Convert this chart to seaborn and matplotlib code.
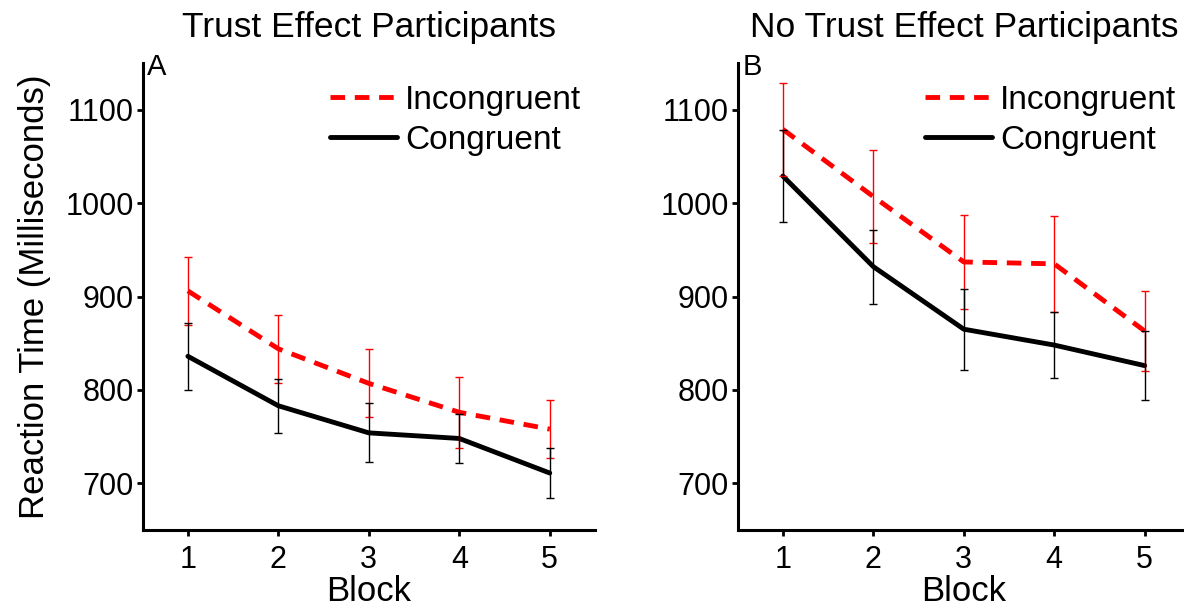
import numpy as np
import pandas as pd
import matplotlib
matplotlib.use("Agg")
import matplotlib.pyplot as plt
from matplotlib.lines import Line2D
import seaborn as sns

# Blocks and conditions
blocks = [1, 2, 3, 4, 5]
conditions = ["Incongruent", "Congruent"]

# Panel A: trust-effect participants (mean RT and standard error, ms)
trust_incongruent = [906, 844, 807, 776, 758]
trust_incongruent_err = [36.6, 36.6, 36.5, 37.9, 30.9]
trust_congruent = [836, 783, 754, 748, 711]
trust_congruent_err = [35.8, 28.7, 31.5, 26.0, 26.8]

# Panel B: no-trust-effect participants (mean RT and standard error, ms)
notrust_incongruent = [1079, 1007, 937, 935, 863]
notrust_incongruent_err = [50.0, 50.0, 50.2, 51.5, 42.5]
notrust_congruent = [1029, 932, 865, 848, 826]
notrust_congruent_err = [49.5, 39.5, 43.5, 35.4, 37.2]

panel_titles = ["Trust Effect Participants", "No Trust Effect Participants"]
panel_letters = ["A", "B"]
y_ticks = [700, 800, 900, 1000, 1100]

colors = {"Incongruent": "#ff0000", "Congruent": "#000000"}
dash_styles = {"Incongruent": (3, 2), "Congruent": ""}

sns.set_style("ticks")
plt.rcParams["font.family"] = ["Liberation Sans", "DejaVu Sans"]
plt.rcParams.update({
    "text.color": "black",
    "axes.labelcolor": "black",
    "axes.edgecolor": "black",
    "xtick.color": "black",
    "ytick.color": "black",
})


def make_frame(incong, cong):
    rows = []
    for cond, vals in zip(conditions, [incong, cong]):
        for b, v in zip(blocks, vals):
            rows.append({"Block": b, "RT": v, "Condition": cond})
    return pd.DataFrame(rows)


panels = [
    (trust_incongruent, trust_incongruent_err, trust_congruent, trust_congruent_err),
    (notrust_incongruent, notrust_incongruent_err, notrust_congruent, notrust_congruent_err),
]

fig = plt.figure(figsize=(11.84, 6.12), dpi=100)
ax_w = 0.382
ax_h = 0.763
ax_b = 0.134
lefts = [0.1205, 0.623]

for i, (inc, inc_e, con, con_e) in enumerate(panels):
    ax = fig.add_axes([lefts[i], ax_b, ax_w, ax_h])
    df = make_frame(inc, con)
    sns.lineplot(data=df, x="Block", y="RT", hue="Condition", style="Condition",
                 hue_order=conditions, style_order=conditions,
                 palette=colors, dashes=dash_styles, linewidth=3.5,
                 errorbar=None, legend=False, ax=ax, zorder=2)
    for cond, m, e in [("Incongruent", inc, inc_e), ("Congruent", con, con_e)]:
        ax.errorbar(blocks, m, yerr=e, fmt="none", ecolor=colors[cond],
                    elinewidth=1.0, capsize=3, capthick=1.0, zorder=3)

    ax.set_xlim(0.5, 5.5)
    ax.set_ylim(650, 1150)
    ax.set_xticks(blocks)
    ax.set_yticks(y_ticks)
    ax.tick_params(axis="both", labelsize=22, length=4, width=2, direction="out")
    ax.tick_params(axis="y", pad=2.5)
    ax.tick_params(axis="x", pad=7)
    for side in ["top", "right"]:
        ax.spines[side].set_visible(False)
    for side in ["left", "bottom"]:
        ax.spines[side].set_linewidth(2.2)

    ax.set_xlabel("Block", fontsize=25, labelpad=0)
    if i == 0:
        ax.set_ylabel("Reaction Time (Milliseconds)", fontsize=25, labelpad=10)
    else:
        ax.set_ylabel("")
    ax.set_title(panel_titles[i], fontsize=25.5, pad=19)
    ax.text(0.01, 1.022, panel_letters[i], transform=ax.transAxes,
            fontsize=21, va="top", ha="left")

    handles = [Line2D([0], [0], color=colors["Incongruent"], lw=3.5, dashes=(3, 2)),
               Line2D([0], [0], color=colors["Congruent"], lw=3.5)]
    ax.legend(handles, conditions, loc="upper left", bbox_to_anchor=(0.414, 0.953),
              frameon=False, fontsize=24, handlelength=2.0, handletextpad=0.25,
              labelspacing=0.27, borderpad=0, borderaxespad=0)

fig.savefig("out.png", dpi=100)
